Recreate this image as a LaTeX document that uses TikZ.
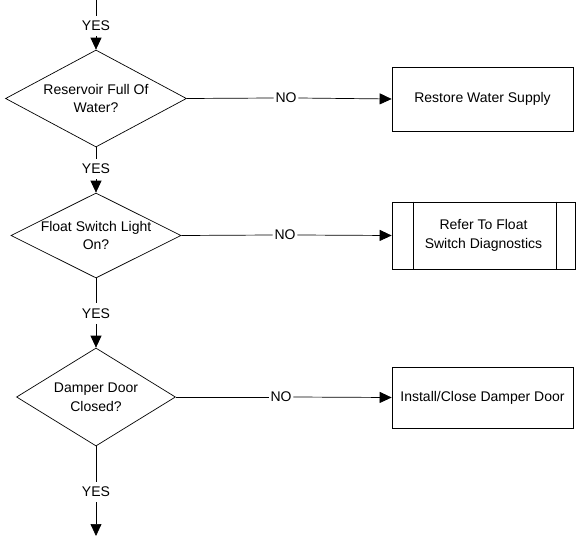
\documentclass[tikz,border=0pt]{standalone}
\usepackage{fontspec}
\setmainfont{Liberation Sans}
\usetikzlibrary{shapes.geometric,arrows.meta}
\begin{document}
\begin{tikzpicture}[x=1pt,y=-1pt,
  font=\fontsize{14}{18.5}\selectfont,
  line width=0.7pt,
  arr/.style={-{Triangle[length=12pt,width=11pt]}},
  dec/.style={diamond, draw, inner sep=0pt},
  dtext/.style={align=center, inner sep=0pt},
  lbl/.style={inner sep=5pt},
  nolbl/.style={inner sep=1.5pt},
  proc/.style={rectangle, draw, align=center, inner sep=2pt}]
\useasboundingbox (0,0) rectangle (576,538);

% decisions
\node[dec, minimum width=181pt, minimum height=97pt,
  label={[dtext]center:{Reservoir Full Of\\Water?}}] (d1) at (96,98.5) {};
\node[dec, minimum width=170pt, minimum height=85pt,
  label={[dtext]center:{Float Switch Light\\On?}}] (d2) at (96,235.5) {};
\node[dec, minimum width=159pt, minimum height=98pt,
  label={[dtext]center:{Damper Door\\Closed?}}] (d3) at (96,397) {};

% process boxes
\node[proc, minimum width=181pt, minimum height=64pt] (b1) at (482.5,99) {Restore Water Supply};
\node[proc, minimum width=183pt, minimum height=67pt] (b2) at (483.5,235.5) {Refer To Float\\Switch Diagnostics};
\draw ([xshift=22pt]b2.north west) -- ([xshift=22pt]b2.south west);
\draw ([xshift=-19pt]b2.north east) -- ([xshift=-19pt]b2.south east);
\node[proc, minimum width=181pt, minimum height=61pt] (b3) at (482.5,397.5) {Install/Close Damper Door};

% YES labels
\coordinate (top) at (96,0);
\coordinate (bot) at (96,536);
\node[lbl] (y1) at (96,26) {YES};
\node[lbl] (y2) at (96,169) {YES};
\node[lbl] (y3) at (96,313.5) {YES};
\node[lbl] (y4) at (96,492) {YES};

\draw (top) -- (y1.north);
\draw[arr] (y1.south) -- (d1.north);
\draw (d1.south) -- (y2.north);
\draw[arr] (y2.south) -- (d2.north);
\draw (d2.south) -- (y3.north);
\draw[arr] (y3.south) -- (d3.north);
\draw (d3.south) -- (y4.north);
\draw[arr] (y4.south) -- (bot);

% NO labels
\node[nolbl] (n1) at (286,98) {NO};
\node[nolbl] (n2) at (285,235) {NO};
\node[nolbl] (n3) at (281,397) {NO};

\draw (d1.east) -- (n1.west);
\draw[arr] (n1.east) -- (b1.west);
\draw (d2.east) -- (n2.west);
\draw[arr] (n2.east) -- (b2.west);
\draw (d3.east) -- (n3.west);
\draw[arr] (n3.east) -- (b3.west);
\end{tikzpicture}
\end{document}
